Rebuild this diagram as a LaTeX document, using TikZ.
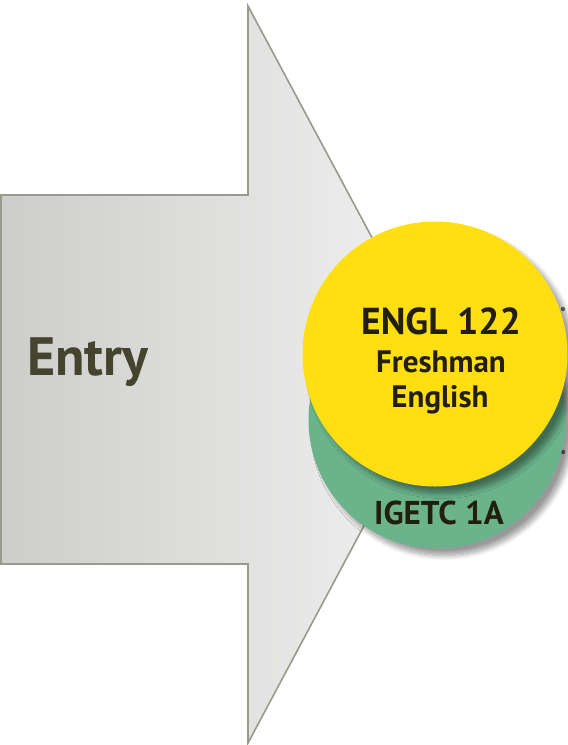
\documentclass[tikz,border=0pt]{standalone}
\usepackage{fontspec}
\setmainfont{PT Sans}
\usetikzlibrary{shadows.blur}
\definecolor{arrowline}{HTML}{9A998C}
\definecolor{arrowL}{HTML}{CDCDCB}
\definecolor{arrowR}{HTML}{F2F3F2}
\definecolor{ylw}{HTML}{FFDF12}
\definecolor{grn}{HTML}{6AB38B}
\definecolor{entrytxt}{HTML}{45442F}
\definecolor{darktxt}{HTML}{231F10}
\definecolor{dotc}{HTML}{6E6E62}
\tikzset{
  disc/.style={circle, inner sep=0pt, minimum size=#1},
  shade/.style={blur shadow={shadow xshift=7pt, shadow yshift=-7pt, shadow blur steps=10, shadow blur radius=5pt, shadow opacity=40}},
  lbl/.style={font=\bfseries, text=darktxt, inner sep=0pt, anchor=base},
}
\begin{document}
\begin{tikzpicture}[x=1pt,y=-1pt]
\useasboundingbox (0,0) rectangle (568,745);
% arrow
\coordinate (a1) at (1,195);
\coordinate (a2) at (248,195);
\coordinate (a3) at (248,6);
\coordinate (tip) at (445,374);
\coordinate (a4) at (248,743);
\coordinate (a5) at (248,564);
\coordinate (a6) at (1,564);
\path[left color=arrowL, right color=arrowR] (a1) -- (a2) -- (a3) -- (tip) -- (a4) -- (a5) -- (a6) -- cycle;
\draw[arrowline, line width=1.6pt, line join=miter] (a1) -- (a2) -- (a3) -- (tip) -- (a4) -- (a5) -- (a6) -- cycle;
\node[font=\bfseries\fontsize{54}{54}\selectfont, text=entrytxt, inner sep=0pt, anchor=base west] (entry) at (27,375) {Entry};
% small dots
\fill[dotc] (563,309) circle (2.2pt);
\fill[dotc] (563,452) circle (2.2pt);
% circles
\node[disc=257pt, fill=grn, shade] (green) at (437,420) {};
\node[disc=265pt, fill=ylw, shade] (yellow) at (435,354) {};
\node[lbl, font=\bfseries\fontsize{37.5}{37.5}\selectfont] (engl) at (441,334) {ENGL 122};
\node[lbl, font=\bfseries\fontsize{31}{31}\selectfont] (fresh) at (441,372) {Freshman};
\node[lbl, font=\bfseries\fontsize{31}{31}\selectfont] (engl2) at (440,407) {English};
\node[lbl, font=\bfseries\fontsize{33}{33}\selectfont] (igetc) at (439,524) {IGETC 1A};
\end{tikzpicture}
\end{document}
